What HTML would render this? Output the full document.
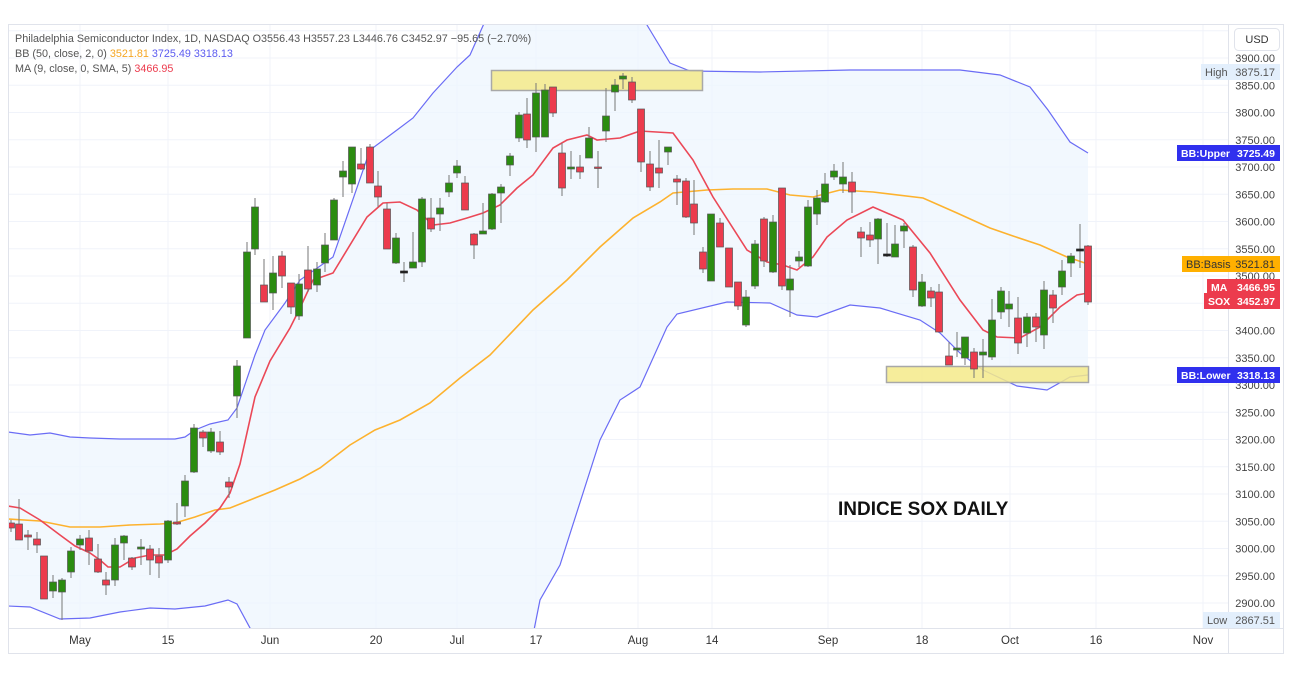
<!DOCTYPE html>
<html><head><meta charset="utf-8"><style>
body{margin:0;background:#fff;width:1292px;height:684px;overflow:hidden;font-family:"Liberation Sans",sans-serif}
svg{position:absolute;left:0;top:0}
</style></head><body>
<svg id="s" width="1292" height="684" xmlns="http://www.w3.org/2000/svg" font-family="Liberation Sans, sans-serif"></svg>
<script>
const S=document.getElementById('s');let h='';
const Y=p=>58+(3900-p)*0.545;
h+='<rect x="8.5" y="24.5" width="1275" height="629" fill="#fff" stroke="#e0e3eb"/>';
for(let p=2850;p<=3950;p+=50){const y=Y(p);if(y>24&&y<628)h+=`<line x1="9" x2="1228" y1="${y}" y2="${y}" stroke="#f0f3fa"/>`;}
const xl=[[80,'May'],[168,'15'],[270,'Jun'],[376,'20'],[457,'Jul'],[536,'17'],[638,'Aug'],[712,'14'],[828,'Sep'],[922,'18'],[1010,'Oct'],[1096,'16'],[1203,'Nov']];
xl.forEach(a=>{h+=`<line x1="${a[0]}" x2="${a[0]}" y1="25" y2="628" stroke="#f0f3fa"/>`;});
h+='<line x1="1228.5" x2="1228.5" y1="25" y2="653" stroke="#e0e3eb"/><line x1="9" x2="1283" y1="628.5" y2="628.5" stroke="#e0e3eb"/>';
const U=[[8,432],[30,435],[50,433],[70,437],[90,438],[120,439],[175,439],[185,437],[195,430],[210,424],[228,420],[237,408],[255,355],[265,330],[285,303],[300,280],[333,257],[370,150],[397,130],[413,118],[433,93],[457,67],[470,55],[490,10],[520,-20],[620,-20],[650,30],[670,63],[690,71],[760,72],[850,70],[960,70],[1000,75],[1030,87],[1048,110],[1070,142],[1088,153]];
const L=[[8,606],[30,607],[60,619],[90,618],[120,612],[150,608],[175,609],[205,606],[228,600],[237,604],[250,628],[270,700],[520,700],[540,600],[560,565],[600,440],[620,400],[640,387],[667,327],[677,314],[727,302],[770,303],[797,315],[817,317],[850,305],[880,308],[920,320],[940,333],[960,353],[983,370],[1017,386],[1047,390],[1070,377],[1088,375]];
const B=[[8,519],[40,521],[70,527],[100,527],[130,525],[160,524],[175,523],[195,517],[215,510],[230,508],[250,500],[275,490],[300,479],[320,468],[350,445],[375,430],[400,420],[430,403],[460,378],[490,355],[533,310],[567,280],[600,247],[633,218],[660,202],[673,193],[707,190],[733,189],[767,189],[790,195],[813,197],[840,190],[873,192],[923,198],[957,213],[990,228],[1013,236],[1040,245],[1067,257],[1088,264]];
const M=[[8,506],[20,508],[40,520],[60,535],[75,546],[90,553],[100,560],[108,567],[120,567],[135,558],[150,555],[165,555],[177,549],[190,536],[205,523],[220,508],[230,493],[240,464],[255,397],[270,361],[290,328],[300,308],[313,280],[333,273],[367,217],[383,203],[400,202],[417,210],[433,225],[450,223],[467,218],[483,213],[500,205],[517,188],[533,175],[553,148],[567,140],[587,135],[597,140],[620,138],[640,131],[673,133],[693,160],[713,197],[747,250],[767,262],[783,265],[797,270],[813,257],[827,237],[847,220],[873,207],[903,220],[930,253],[960,300],[983,330],[997,337],[1020,338],[1040,327],[1060,307],[1077,295],[1088,293]];
const pts=a=>a.map(p=>p.join(',')).join(' ');
h+='<defs><clipPath id="c"><rect x="9" y="25" width="1219" height="603"/></clipPath></defs><g clip-path="url(#c)">';
h+=`<polygon points="${pts(U)} ${pts(L.slice().reverse())}" fill="#eef5fd" opacity="0.75"/>`;
h+=`<polyline points="${pts(U)}" fill="none" stroke="#6a6cf5" stroke-width="1.2"/>`;
h+=`<polyline points="${pts(L)}" fill="none" stroke="#6a6cf5" stroke-width="1.2"/>`;
h+=`<polyline points="${pts(B)}" fill="none" stroke="#fdb22e" stroke-width="1.6"/>`;
h+=`<polyline points="${pts(M)}" fill="none" stroke="#eb4857" stroke-width="1.6"/>`;
h+='<rect x="491.5" y="70.5" width="211" height="20" fill="#f4ea8a" fill-opacity="0.85" stroke="#a8a8a8" stroke-width="1.5"/>';
h+='<rect x="886.5" y="366.5" width="202" height="16" fill="#f4ea8a" fill-opacity="0.85" stroke="#a8a8a8" stroke-width="1.5"/>';
const C=[[11,523,528,520,532,'r'],[19,524,540,499,540,'r'],[28,535,537,530,550,'r'],[37,539,545,532,553,'r'],[44,556,599,556,599,'r'],[53,582,591,575,598,'g'],[62,580,592,578,620,'g'],[71,551,572,547,578,'g'],[80,539,545,535,550,'g'],[89,538,551,530,565,'r'],[98,559,572,544,573,'r'],[106,580,585,572,595,'r'],[115,545,580,538,586,'g'],[124,536,543,535,560,'g'],[132,558,567,557,570,'r'],[141,547,549,539,565,'g'],[150,549,560,545,575,'r'],[159,556,563,548,578,'r'],[168,521,560,520,563,'g'],[177,522,524,503,525,'r'],[185,481,506,475,517,'g'],[194,428,472,424,473,'g'],[203,432,438,430,447,'r'],[211,432,451,428,453,'g'],[220,442,452,431,455,'r'],[229,482,487,477,498,'r'],[237,366,396,360,418,'g'],[247,252,338,242,338,'g'],[255,207,249,198,255,'g'],[264,285,302,259,302,'r'],[273,273,293,256,310,'g'],[282,256,276,251,288,'r'],[291,283,307,283,314,'r'],[299,284,316,274,320,'g'],[308,270,289,246,292,'r'],[317,269,285,262,292,'g'],[325,245,263,233,272,'g'],[334,200,240,198,240,'g'],[343,171,177,161,197,'g'],[352,147,184,147,193,'g'],[361,164,169,148,170,'r'],[370,147,183,144,183,'r'],[378,186,197,171,207,'r'],[387,209,249,203,249,'r'],[396,238,263,233,264,'g'],[404,271,273,262,282,'k'],[413,262,268,232,268,'g'],[422,199,262,197,267,'g'],[431,218,229,198,232,'r'],[440,208,214,198,231,'g'],[449,183,192,175,197,'g'],[457,166,173,160,178,'g'],[465,183,210,176,210,'r'],[474,234,245,233,259,'r'],[483,231,234,203,234,'g'],[492,194,229,193,230,'g'],[501,187,193,184,223,'g'],[510,156,165,153,176,'g'],[519,115,138,112,142,'g'],[527,114,140,98,148,'r'],[536,93,137,83,152,'g'],[545,90,137,84,137,'g'],[553,87,113,87,117,'r'],[562,153,188,143,196,'r'],[571,167,169,151,179,'g'],[580,167,172,155,179,'r'],[589,138,158,127,158,'g'],[598,167,168,151,188,'r'],[606,116,131,88,142,'g'],[615,85,92,79,111,'g'],[623,76,79,73,89,'g'],[632,82,100,77,103,'r'],[641,109,162,109,172,'r'],[650,164,187,151,191,'r'],[659,168,173,140,188,'r'],[668,147,152,147,165,'g'],[677,179,182,175,205,'r'],[686,181,217,178,218,'r'],[694,204,223,180,235,'r'],[703,252,269,247,273,'r'],[711,214,281,214,281,'g'],[720,223,247,218,247,'r'],[729,248,287,248,287,'r'],[738,282,306,282,310,'r'],[746,297,325,290,327,'g'],[755,244,286,240,289,'g'],[764,219,261,217,267,'r'],[773,222,272,215,273,'g'],[782,188,286,188,290,'r'],[790,279,290,265,317,'g'],[799,257,261,251,267,'g'],[808,207,266,200,267,'g'],[817,198,214,190,225,'g'],[825,184,202,173,203,'g'],[834,171,177,164,180,'g'],[843,177,184,162,193,'g'],[852,182,192,172,213,'r'],[861,232,238,227,257,'r'],[870,235,240,222,247,'r'],[878,219,239,218,264,'g'],[887,254,256,223,257,'k'],[895,244,257,225,257,'g'],[904,226,231,223,248,'g'],[913,247,290,245,297,'r'],[922,282,306,274,307,'g'],[931,291,298,287,307,'r'],[939,292,332,284,332,'r'],[949,356,365,342,365,'r'],[957,348,350,332,357,'g'],[965,337,358,337,365,'g'],[974,352,369,348,378,'r'],[983,352,355,339,378,'g'],[992,320,357,299,360,'g'],[1001,291,312,287,319,'g'],[1009,304,309,291,327,'g'],[1018,318,343,297,354,'r'],[1027,317,333,313,347,'g'],[1036,317,327,313,342,'r'],[1044,290,335,281,349,'g'],[1053,295,308,290,323,'r'],[1062,271,287,260,295,'g'],[1071,256,263,253,277,'g'],[1080,249,251,224,268,'k'],[1088,246,302,245,305,'r']];
C.forEach(c=>{const [x,t,b,wt,wb,k]=c;const f=k=='g'?'#2b8c10':k=='r'?'#ec3b4d':'#222';
h+=`<line x1="${x}" x2="${x}" y1="${wt}" y2="${wb}" stroke="#777" stroke-width="1"/>`;
h+=`<rect x="${x-3.5}" y="${t}" width="7" height="${Math.max(b-t,1.5)}" fill="${f}" stroke="${k=='k'?'#222':'#555'}" stroke-width="0.7"/>`;});
h+='</g>';
h+='<text x="15" y="42" font-size="10.8" fill="#555">Philadelphia Semiconductor Index, 1D, NASDAQ  O3556.43  H3557.23  L3446.76  C3452.97  −95.65 (−2.70%)</text>';
h+='<text x="15" y="57" font-size="10.8" fill="#555">BB (50, close, 2, 0)  <tspan fill="#f5a623">3521.81</tspan>  <tspan fill="#5b5bf0">3725.49</tspan>  <tspan fill="#5b5bf0">3318.13</tspan></text>';
h+='<text x="15" y="72" font-size="10.8" fill="#555">MA (9, close, 0, SMA, 5)  <tspan fill="#ec3b4d">3466.95</tspan></text>';
h+='<text x="838" y="515" font-size="19" font-weight="bold" fill="#111">INDICE SOX DAILY</text>';
for(let p=2900;p<=3900;p+=50){h+=`<text x="1275" y="${Y(p)+4}" font-size="11" fill="#444" text-anchor="end">${p}.00</text>`;}
xl.forEach(a=>{h+=`<text x="${a[0]}" y="644" font-size="11.5" fill="#333" text-anchor="middle">${a[1]}</text>`;});
h+='<rect x="1234.5" y="28.5" width="45" height="22" rx="4" fill="#fff" stroke="#e0e3eb"/><text x="1257" y="43" font-size="11" fill="#333" text-anchor="middle">USD</text>';
const badge=(y,lab,val,bg,fg,x0)=>{const b=fg=='#fff';const w=b?'bold':'normal';const fs=b?10.5:11;h+=`<rect x="${x0}" y="${y-8}" width="${1280-x0}" height="16" fill="${bg}"/><text x="${x0+4}" y="${y+4}" font-size="${fs}" fill="${fg}" font-weight="${w}">${lab}</text><text x="1275" y="${y+4}" font-size="${fs}" fill="${fg}" text-anchor="end" font-weight="${w}">${val}</text>`;};
badge(72,'High','3875.17','#e3effc','#555',1201);
badge(153,'BB:Upper','3725.49','#3030ee','#fff',1177);
badge(264,'BB:Basis','3521.81','#ffb000','#333',1182);
badge(287,'MA','3466.95','#ec3b4d','#fff',1207);
badge(301,'SOX','3452.97','#ec3b4d','#fff',1204);
badge(375,'BB:Lower','3318.13','#3030ee','#fff',1177);
badge(620,'Low','2867.51','#e3effc','#555',1203);
S.innerHTML=h;
</script>
</body></html>
